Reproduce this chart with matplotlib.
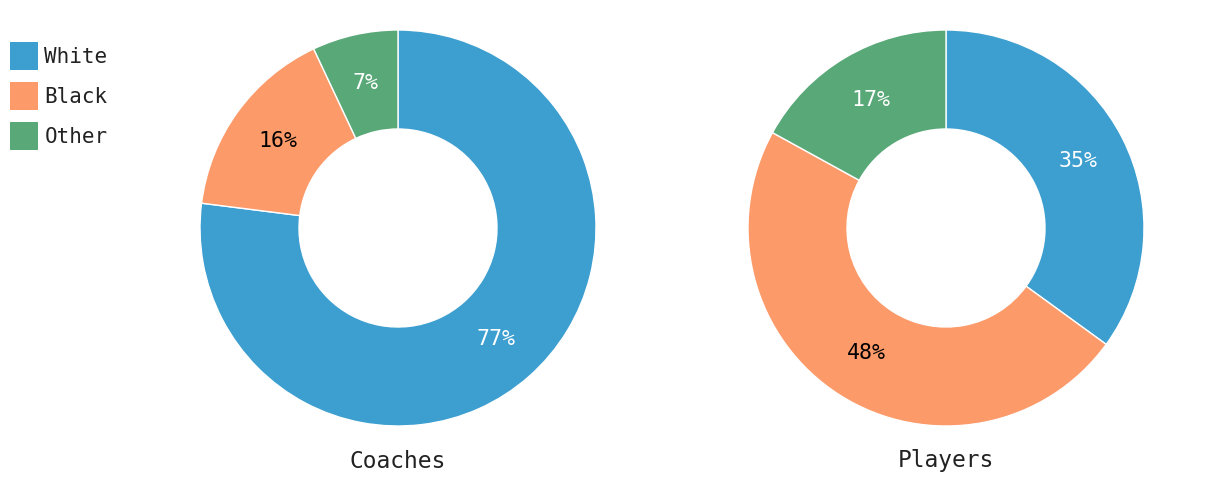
import matplotlib
matplotlib.use("Agg")
import matplotlib.pyplot as plt
from matplotlib.patches import Patch

groups = ["Coaches", "Players"]
races = ["White", "Black", "Other"]
coaches = [77, 16, 7]
players = [35, 48, 17]
colors = ["#3d9fd0", "#fc9a6a", "#59a878"]
label_colors = ["white", "black", "white"]

plt.rcParams["font.family"] = ["DejaVu Sans Mono"]

W, H = 1220, 504
fig = plt.figure(figsize=(W / 100, H / 100), dpi=100)

centers = [398, 946]
R = 198
for name, vals, cx in zip(groups, [coaches, players], centers):
    ax = fig.add_axes([(cx - R) / W, (H - 228 - R) / H, 2 * R / W, 2 * R / H])
    wedges, texts, autotexts = ax.pie(
        vals, colors=colors, startangle=90, counterclock=False,
        radius=1, autopct="%d%%", pctdistance=0.75,
        wedgeprops=dict(width=0.5, edgecolor="white", linewidth=1),
        textprops=dict(fontsize=15.5))
    for t, c in zip(autotexts, label_colors):
        t.set_color(c)
    ax.set_xlim(-1, 1)
    ax.set_ylim(-1, 1)
    fig.text(cx / W, 1 - 461 / H, name, ha="center", va="center",
             fontsize=16.5, color="#222222")

handles = [Patch(facecolor=c, edgecolor="none") for c in colors]
fig.legend(handles, races, loc="upper left", bbox_to_anchor=(10 / W, 1 - 42 / H),
           frameon=False, fontsize=15, handlelength=1.35, handleheight=1.69,
           labelspacing=0.58, handletextpad=0.3, borderaxespad=0, borderpad=0,
           labelcolor="#222222")

fig.savefig("out.png", dpi=100)
